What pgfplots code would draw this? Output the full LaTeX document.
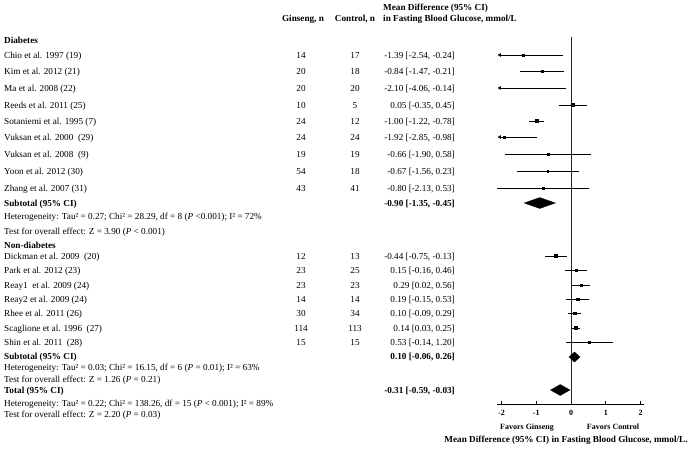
\documentclass[border=0pt]{standalone}
\usepackage{pgfplots}
\pgfplotsset{compat=1.18}
\usepackage{fontspec}
\setmainfont{Liberation Serif}
\usetikzlibrary{arrows.meta}

% y (pixel row), md, lo, hi, mark size
\newcommand\study[5]{%
  \addplot[black, line width=0.7pt] coordinates {(#3,-#1) (#4,-#1)};
  \addplot[black, only marks, mark=square*, mark size=#5pt] coordinates {(#2,-#1)};
}
% clipped at the left: y, md, hi, mark size, show mark (1/0)
\newcommand\studyarrow[5]{%
  \addplot[black, line width=0.7pt, {Latex[length=3.5pt,width=4pt]}-] coordinates {(-2.12,-#1) (#3,-#1)};
  \ifnum#5=1 \addplot[black, only marks, mark=square*, mark size=#4pt] coordinates {(#2,-#1)};\fi
}
% diamond: y, md, lo, hi, ytop, ybottom
\newcommand\dmd[6]{%
  \addplot[black, fill=black, line width=0.3pt] coordinates {(#3,-#1) (#2,-#5) (#4,-#1) (#2,-#6)} -- cycle;
}

\newcommand\lt[2]{\node[anchor=base west, inner sep=0pt] at (4,-#1-3) {#2};}
\newcommand\row[5]{%
  \node[anchor=base west, inner sep=0pt] at (4,-#1-3) {#2};
  \node[anchor=base, inner sep=0pt] at (301,-#1-3) {#3};
  \node[anchor=base, inner sep=0pt] at (355,-#1-3) {#4};
  \node[anchor=base east, inner sep=0pt] at (455,-#1-3) {#5};
}

\begin{document}
\fontsize{9.2}{11}\selectfont
\begin{tikzpicture}[x=1pt,y=1pt]
\path[use as bounding box] (0,0) rectangle (689,-450);
\begin{axis}[
  at={(497pt,-404pt)}, anchor=south west,
  scale only axis, width=147pt, height=374pt,
  xmin=-2.13, xmax=2.10, ymin=-404, ymax=-30,
  axis x line=bottom, axis y line=none,
  x axis line style={-, line width=0.7pt},
  xtick={-2,-1,0,1,2},
  xticklabels={\textbf{-2},\textbf{-1},\textbf{0},\textbf{1},\textbf{2}},
  tick align=inside, major tick length=3pt,
  tick style={black, line width=0.6pt},
  x tick label style={font=\fontsize{8}{9}\selectfont, yshift=-3pt},
  clip=false,
]
\addplot[black!85, line width=0.6pt] coordinates {(0,-37) (0,-404)};
% Diabetes
\studyarrow{55}{-1.39}{-0.24}{1}{1}
\study{71}{-0.84}{-1.47}{-0.21}{1}
\studyarrow{88}{-2.10}{-0.14}{1}{0}
\study{105}{0.05}{-0.35}{0.45}{1.4}
\study{121}{-1.00}{-1.22}{-0.78}{1.5}
\studyarrow{137}{-1.92}{-0.98}{1}{1}
\study{154}{-0.66}{-1.90}{0.58}{0.9}
\study{171}{-0.67}{-1.56}{0.23}{0.9}
\study{188}{-0.80}{-2.13}{0.53}{0.9}
\dmd{203}{-0.90}{-1.35}{-0.45}{197.5}{208.5}
% Non-diabetes
\study{256}{-0.44}{-0.75}{-0.13}{1.4}
\study{270}{0.15}{-0.16}{0.46}{1.2}
\study{285}{0.29}{0.02}{0.56}{1.2}
\study{299}{0.19}{-0.15}{0.53}{1.2}
\study{313}{0.10}{-0.09}{0.29}{1.3}
\study{328}{0.14}{0.03}{0.25}{1.5}
\study{342}{0.53}{-0.14}{1.20}{0.9}
\dmd{357}{0.10}{-0.06}{0.26}{352}{362}
\dmd{390}{-0.31}{-0.59}{-0.03}{384.5}{395.5}
\end{axis}

% headers
\node[anchor=base west, inner sep=0pt] at (383,-10) {\bfseries Mean Difference (95\% CI)};
\node[anchor=base west, inner sep=0pt] at (383,-21) {\bfseries in Fasting Blood Glucose, mmol/L};
\node[anchor=base, inner sep=0pt] at (303,-21) {\bfseries Ginseng, n};
\node[anchor=base, inner sep=0pt] at (355,-21) {\bfseries Control, n};

\lt{40}{\bfseries Diabetes}
\row{55}{Chio et al. 1997 (19)}{14}{17}{-1.39 [-2.54, -0.24]}
\row{71}{Kim et al. 2012 (21)}{20}{18}{-0.84 [-1.47, -0.21]}
\row{88}{Ma et al. 2008 (22)}{20}{20}{-2.10 [-4.06, -0.14]}
\row{105}{Reeds et al. 2011 (25)}{10}{5}{0.05 [-0.35, 0.45]}
\row{121}{Sotaniemi et al. 1995 (7)}{24}{12}{-1.00 [-1.22, -0.78]}
\row{137}{Vuksan et al. 2000~ (29)}{24}{24}{-1.92 [-2.85, -0.98]}
\row{154}{Vuksan et al. 2008~ (9)}{19}{19}{-0.66 [-1.90, 0.58]}
\row{171}{Yoon et al. 2012 (30)}{54}{18}{-0.67 [-1.56, 0.23]}
\row{188}{Zhang et al. 2007 (31)}{43}{41}{-0.80 [-2.13, 0.53]}
\row{203}{\bfseries Subtotal (95\% CI)}{}{}{\bfseries -0.90 [-1.35, -0.45]}
\lt{216}{Heterogeneity: Tau² = 0.27; Chi² = 28.29, df = 8 (\textit{P} <0.001); I² = 72\%}
\lt{231}{Test for overall effect: Z = 3.90 (\textit{P} < 0.001)}
\lt{245}{\bfseries Non-diabetes}
\row{256}{Dickman et al. 2009~ (20)}{12}{13}{-0.44 [-0.75, -0.13]}
\row{270}{Park et al. 2012 (23)}{23}{25}{0.15 [-0.16, 0.46]}
\row{285}{Reay1~ et al. 2009 (24)}{23}{23}{0.29 [0.02, 0.56]}
\row{299}{Reay2 et al. 2009 (24)}{14}{14}{0.19 [-0.15, 0.53]}
\row{313}{Rhee et al. 2011 (26)}{30}{34}{0.10 [-0.09, 0.29]}
\row{328}{Scaglione et al. 1996~ (27)}{114}{113}{0.14 [0.03, 0.25]}
\row{342}{Shin et al. 2011~ (28)}{15}{15}{0.53 [-0.14, 1.20]}
\row{356}{\bfseries Subtotal (95\% CI)}{}{}{\bfseries 0.10 [-0.06, 0.26]}
\lt{367}{Heterogeneity: Tau² = 0.03; Chi² = 16.15, df = 6 (\textit{P} = 0.01); I² = 63\%}
\lt{379}{Test for overall effect: Z = 1.26 (\textit{P} = 0.21)}
\row{390}{\bfseries Total (95\% CI)}{}{}{\bfseries -0.31 [-0.59, -0.03]}
\lt{403}{Heterogeneity: Tau² = 0.22; Chi² = 138.26, df = 15 (\textit{P} < 0.001); I² = 89\%}
\lt{414}{Test for overall effect: Z = 2.20 (\textit{P} = 0.03)}

% bottom labels
\node[anchor=base, inner sep=0pt, font=\fontsize{8}{9}\selectfont\bfseries] at (527,-429) {Favors Ginseng};
\node[anchor=base, inner sep=0pt, font=\fontsize{8}{9}\selectfont\bfseries] at (613,-429) {Favors Control};
\node[anchor=base, inner sep=0pt] at (566,-442) {\bfseries Mean Difference (95\% CI) in Fasting Blood Glucose, mmol/L.};
\end{tikzpicture}
\end{document}
